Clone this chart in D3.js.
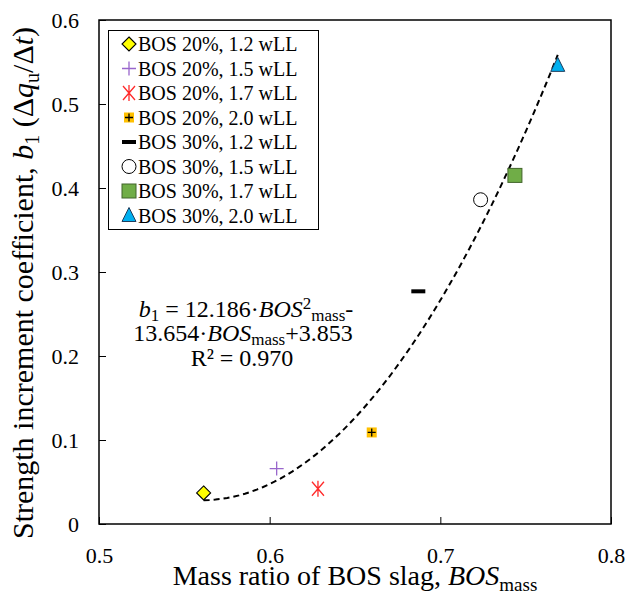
<!DOCTYPE html>
<html>
<head>
<meta charset="utf-8">
<script src="https://cdn.jsdelivr.net/npm/d3@7"></script>
<style>
  body { margin: 0; background: #fff; }
  text { font-family: "Liberation Serif", "Times New Roman", serif; fill: #000; }
</style>
</head>
<body>
<script>
// data
const seriesNames = [
  "BOS 20%, 1.2 wLL", "BOS 20%, 1.5 wLL", "BOS 20%, 1.7 wLL", "BOS 20%, 2.0 wLL",
  "BOS 30%, 1.2 wLL", "BOS 30%, 1.5 wLL", "BOS 30%, 1.7 wLL", "BOS 30%, 2.0 wLL"
]
const bosMass = [0.5613, 0.6041, 0.6283, 0.6598, 0.6871, 0.7236, 0.7437, 0.7688]
const b1Values = [0.037, 0.066, 0.042, 0.109, 0.277, 0.386, 0.415, 0.546]
const fitCoef = [12.186, -13.654, 3.853]   // a*x^2 + b*x + c
const xTicks = [0.5, 0.6, 0.7, 0.8]
const yTicks = [0, 0.1, 0.2, 0.3, 0.4, 0.5, 0.6]

// marker look per series
const markerStyles = [
  { shape: "diamond", fill: "#ffff00", stroke: "#000" },
  { shape: "plus", fill: "none", stroke: "#9966cc" },
  { shape: "star", fill: "none", stroke: "#ff2a2a" },
  { shape: "boxplus", fill: "#ffc000", stroke: "#000" },
  { shape: "dash", fill: "#000", stroke: "none" },
  { shape: "circle", fill: "#fff", stroke: "#000" },
  { shape: "square", fill: "#70ad47", stroke: "#41642a" },
  { shape: "triangle", fill: "#00b0f0", stroke: "#1f3d5c" }
]

const W = 626, H = 607
const margin = { left: 99, right: 15, top: 20, bottom: 83 }

const svg = d3.select("body").append("svg")
  .attr("width", W)
  .attr("height", H)

const x = d3.scaleLinear().domain([0.5, 0.8]).range([margin.left, W - margin.right])
const y = d3.scaleLinear().domain([0, 0.6]).range([H - margin.bottom, margin.top])

function drawMarker(g, st, cx, cy) {
  const m = g.append("g").attr("transform", `translate(${cx},${cy})`)
  switch (st.shape) {
    case "diamond":
      m.append("path").attr("d", "M0,-7L7,0L0,7L-7,0Z")
        .attr("fill", st.fill).attr("stroke", st.stroke).attr("stroke-width", 1.1)
      break
    case "plus":
      m.append("path").attr("d", "M-7,0H7M0,-7V7")
        .attr("stroke", st.stroke).attr("stroke-width", 1.3)
      break
    case "star":
      m.append("path").attr("d", "M-6,-7L6,7M-6,7L6,-7M0,-8V8")
        .attr("stroke", st.stroke).attr("stroke-width", 1.3)
      break
    case "boxplus":
      m.append("rect").attr("x", -5).attr("y", -5).attr("width", 10).attr("height", 10)
        .attr("fill", st.fill)
      m.append("path").attr("d", "M-4,0H4M0,-4V4")
        .attr("stroke", st.stroke).attr("stroke-width", 1.3)
      break
    case "dash":
      m.append("rect").attr("x", -7).attr("y", -2).attr("width", 14).attr("height", 4)
        .attr("fill", st.fill)
      break
    case "circle":
      m.append("circle").attr("r", 7)
        .attr("fill", st.fill).attr("stroke", st.stroke).attr("stroke-width", 1)
      break
    case "square":
      m.append("rect").attr("x", -7).attr("y", -7).attr("width", 14).attr("height", 14)
        .attr("fill", st.fill).attr("stroke", st.stroke).attr("stroke-width", 1)
      break
    case "triangle":
      m.append("path").attr("d", "M0,-8L7,6H-7Z")
        .attr("fill", st.fill).attr("stroke", st.stroke).attr("stroke-width", 1)
      break
  }
}

// axes, ticks point inward
const fmt = d => d === 0 ? "0" : d.toFixed(1)

const xAxis = svg.append("g")
  .attr("transform", `translate(0,${y(0)})`)
  .call(d3.axisBottom(x).tickValues(xTicks).tickFormat(fmt).tickSizeInner(-7).tickSizeOuter(0).tickPadding(23))
const yAxis = svg.append("g")
  .attr("transform", `translate(${x(0.5)},0)`)
  .call(d3.axisLeft(y).tickValues(yTicks).tickFormat(fmt).tickSizeInner(-7).tickSizeOuter(0).tickPadding(20))

for (const ax of [xAxis, yAxis]) {
  ax.attr("font-family", null)
  ax.select(".domain").remove()
  ax.selectAll("line").attr("stroke", "#000").attr("stroke-width", 1)
  ax.selectAll("text")
    .style("font-family", '"Liberation Serif", serif')
    .style("font-size", "22px")
    .attr("fill", "#000")
}

// plot frame
svg.append("rect")
  .attr("x", x(0.5)).attr("y", y(0.6))
  .attr("width", x(0.8) - x(0.5)).attr("height", y(0) - y(0.6))
  .attr("fill", "none").attr("stroke", "#000").attr("stroke-width", 1.5)

// trendline from the fitted equation, over the data range
const xmin = d3.min(bosMass), xmax = d3.max(bosMass)
const fitPts = d3.range(0, 61).map(i => {
  const xv = xmin + (xmax - xmin) * i / 60
  return [xv, fitCoef[0] * xv * xv + fitCoef[1] * xv + fitCoef[2]]
})
svg.append("path")
  .attr("d", d3.line().x(d => x(d[0])).y(d => y(d[1]))(fitPts))
  .attr("fill", "none")
  .attr("stroke", "#000")
  .attr("stroke-width", 2)
  .attr("stroke-dasharray", "6,4")

// points
const pts = svg.append("g")
bosMass.forEach((v, i) => drawMarker(pts, markerStyles[i], x(v), y(b1Values[i])))

// legend
const lg = svg.append("g")
lg.append("rect")
  .attr("x", 108.5).attr("y", 30.5).attr("width", 210).attr("height", 199)
  .attr("fill", "#fff").attr("stroke", "#000").attr("stroke-width", 1)
seriesNames.forEach((name, i) => {
  const cy = 44 + i * 24.5
  drawMarker(lg, markerStyles[i], 129, cy)
  lg.append("text")
    .attr("x", 138).attr("y", cy + 7)
    .style("font-size", "20px")
    .text(name)
})

// equation label
const eq = svg.append("text")
  .attr("text-anchor", "middle")
  .style("font-size", "24px")
const l1 = eq.append("tspan").attr("x", 246).attr("y", 317)
l1.append("tspan").style("font-style", "italic").text("b")
l1.append("tspan").attr("dy", 4).style("font-size", "17px").text("1")
l1.append("tspan").attr("dy", -4).text(" = 12.186·")
l1.append("tspan").style("font-style", "italic").text("BOS")
l1.append("tspan").attr("dy", -8).style("font-size", "17px").text("2")
l1.append("tspan").attr("dy", 12).style("font-size", "17px").text("mass")
l1.append("tspan").attr("dy", -4).text("-")
const l2 = eq.append("tspan").attr("x", 243).attr("y", 341)
l2.append("tspan").text("13.654·")
l2.append("tspan").style("font-style", "italic").text("BOS")
l2.append("tspan").attr("dy", 4).style("font-size", "17px").text("mass")
l2.append("tspan").attr("dy", -4).text("+3.853")
eq.append("tspan").attr("x", 242).attr("y", 366).text("R² = 0.970")

// axis titles
const xt = svg.append("text")
  .attr("x", (x(0.5) + x(0.8)) / 2).attr("y", 585)
  .attr("text-anchor", "middle")
  .style("font-size", "28px")
xt.append("tspan").text("Mass ratio of BOS slag, ")
xt.append("tspan").style("font-style", "italic").text("BOS")
xt.append("tspan").attr("dy", 6).style("font-size", "19px").text("mass")

const yt = svg.append("text")
  .attr("transform", `translate(33,283) rotate(-90)`)
  .attr("text-anchor", "middle")
  .style("font-size", "30px")
yt.append("tspan").text("Strength increment coefficient, ")
yt.append("tspan").style("font-style", "italic").text("b")
yt.append("tspan").attr("dy", 6).style("font-size", "20px").text("1")
yt.append("tspan").attr("dy", -6).text(" (Δ")
yt.append("tspan").style("font-style", "italic").text("q")
yt.append("tspan").attr("dy", 6).style("font-size", "20px").text("u")
yt.append("tspan").attr("dy", -6).text("/Δ")
yt.append("tspan").style("font-style", "italic").text("t")
yt.append("tspan").text(")")
</script>
</body>
</html>
